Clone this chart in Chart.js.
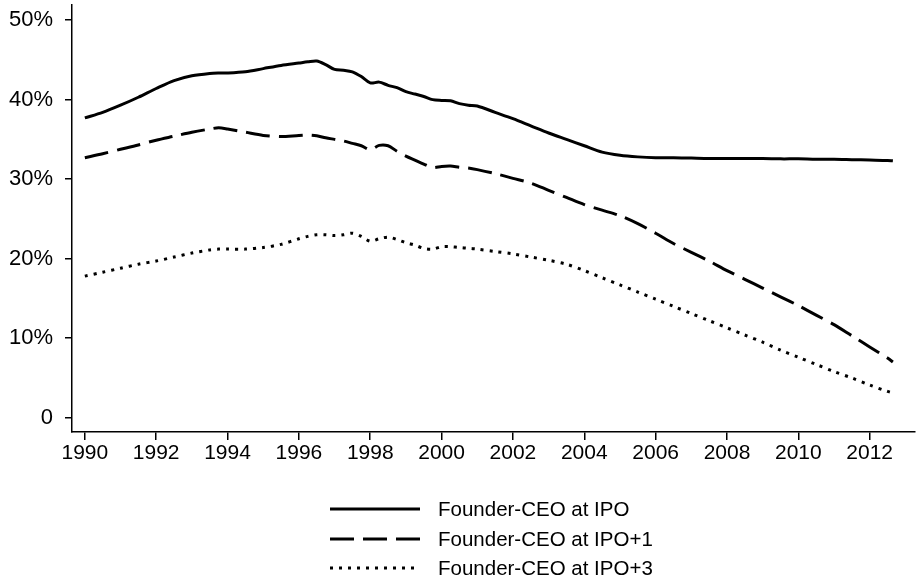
<!DOCTYPE html>
<html>
<head>
<meta charset="utf-8">
<title>Founder-CEO share</title>
<script src="https://cdn.jsdelivr.net/npm/chart.js@4.4.1/dist/chart.umd.min.js"></script>
<style>
    html, body { margin: 0; padding: 0; background: #fff; }
    #wrap { width: 921px; height: 583px; position: relative; }
</style>
</head>
<body>
<div id="wrap"><canvas id="chart"></canvas></div>
<script>
// x positions (years) shared by all three series
const years = [
    1990.0, 1990.5, 1991.0, 1991.5, 1992.0, 1992.5, 1993.0, 1993.5, 1993.75, 1994.0,
    1994.5, 1995.0, 1995.5, 1996.0, 1996.25, 1996.5, 1996.75, 1997.0, 1997.25, 1997.5,
    1997.75, 1998.0, 1998.25, 1998.5, 1998.75, 1999.0, 1999.25, 1999.5, 1999.75, 2000.0,
    2000.25, 2000.5, 2000.75, 2001.0, 2001.5, 2002.0, 2002.5, 2003.0, 2003.5, 2004.0,
    2004.5, 2005.0, 2005.5, 2006.0, 2006.5, 2007.0, 2007.5, 2008.0, 2008.5, 2009.0,
    2009.5, 2010.0, 2010.5, 2011.0, 2011.5, 2012.0, 2012.5, 2012.65
];

const ceoAtIpo = [
    37.7, 38.4, 39.3, 40.3, 41.4, 42.4, 43.0, 43.3, 43.35, 43.35,
    43.5, 43.9, 44.3, 44.6, 44.75, 44.85, 44.4, 43.8, 43.7, 43.5,
    42.9, 42.1, 42.2, 41.8, 41.5, 41.0, 40.7, 40.4, 40.0, 39.9,
    39.85, 39.5, 39.3, 39.2, 38.4, 37.6, 36.7, 35.8, 35.0, 34.2,
    33.4, 33.0, 32.8, 32.7, 32.7, 32.65, 32.6, 32.6, 32.6, 32.6,
    32.55, 32.55, 32.5, 32.5, 32.45, 32.4, 32.35, 32.3
];

const ceoAtIpo1 = [
    32.7, 33.2, 33.75, 34.3, 34.9, 35.4, 35.9, 36.3, 36.45, 36.3,
    35.9, 35.5, 35.35, 35.5, 35.55, 35.45, 35.2, 35.0, 34.8, 34.5,
    34.2, 33.7, 34.25, 34.2, 33.5, 32.9, 32.4, 31.9, 31.45, 31.6,
    31.65, 31.5, 31.4, 31.2, 30.7, 30.1, 29.5, 28.6, 27.7, 26.8,
    26.1, 25.4, 24.4, 23.2, 21.9, 20.8, 19.7, 18.5, 17.4, 16.3,
    15.2, 14.1, 12.9, 11.7, 10.3, 8.9, 7.5, 7.0
];

const ceoAtIpo3 = [
    17.8, 18.3, 18.8, 19.3, 19.7, 20.2, 20.7, 21.1, 21.2, 21.2,
    21.2, 21.4, 21.8, 22.5, 22.8, 23.0, 23.0, 22.9, 23.0, 23.2,
    22.8, 22.2, 22.5, 22.7, 22.4, 22.0, 21.7, 21.3, 21.2, 21.5,
    21.5, 21.4, 21.3, 21.2, 20.9, 20.6, 20.2, 19.8, 19.3, 18.5,
    17.6, 16.7, 15.8, 14.9, 14.0, 13.1, 12.2, 11.3, 10.4, 9.5,
    8.5, 7.6, 6.7, 5.8, 5.0, 4.1, 3.3, 3.1
];

const seriesLabels = ['Founder-CEO at IPO', 'Founder-CEO at IPO+1', 'Founder-CEO at IPO+3'];
const xTickValues = [1990, 1992, 1994, 1996, 1998, 2000, 2002, 2004, 2006, 2008, 2010, 2012];
const yTickValues = [0, 10, 20, 30, 40, 50];

const FONT = "'Liberation Sans', Arial, sans-serif";

function toPoints(values) {
    return values.map((v, i) => ({ x: years[i], y: v }));
}

// legend drawn as a vertical stack below the plot
const stackedLegend = {
    id: 'stackedLegend',
    afterDraw(chart) {
        const ctx = chart.ctx;
        const rows = [509, 539, 568];
        ctx.save();
        chart.data.datasets.forEach((ds, i) => {
            const y = rows[i];
            ctx.strokeStyle = ds.borderColor;
            ctx.lineWidth = ds.borderWidth;
            ctx.setLineDash(ds.borderDash || []);
            ctx.beginPath();
            ctx.moveTo(330, y);
            ctx.lineTo(420, y);
            ctx.stroke();
            ctx.setLineDash([]);
            ctx.fillStyle = '#000';
            ctx.font = '20.5px ' + FONT;
            ctx.textBaseline = 'middle';
            ctx.fillText(ds.label, 438, y + 1);
        });
        ctx.restore();
    }
};

const ctx = document.getElementById('chart').getContext('2d');
new Chart(ctx, {
    type: 'line',
    data: {
        datasets: [
            {
                label: seriesLabels[0],
                data: toPoints(ceoAtIpo),
                borderColor: '#000',
                borderWidth: 3,
                pointRadius: 0,
                tension: 0.3
            },
            {
                label: seriesLabels[1],
                data: toPoints(ceoAtIpo1),
                borderColor: '#000',
                borderWidth: 3,
                borderDash: [24, 9],
                pointRadius: 0,
                tension: 0.3
            },
            {
                label: seriesLabels[2],
                data: toPoints(ceoAtIpo3),
                borderColor: '#000',
                borderWidth: 3,
                borderDash: [3, 6],
                pointRadius: 0,
                tension: 0.3
            }
        ]
    },
    options: {
        responsive: true,
        maintainAspectRatio: false,
        animation: false,
        layout: { padding: { top: 5, right: 6, left: 0, bottom: 0 } },
        plugins: {
            legend: { display: false },
            tooltip: { enabled: false }
        },
        scales: {
            x: {
                type: 'linear',
                min: 1989.64,
                max: 2013.27,
                afterBuildTicks: (axis) => {
                    axis.ticks = xTickValues.map(v => ({ value: v }));
                },
                afterFit: (axis) => {
                    axis.height = 151;
                    axis.paddingLeft = 0;
                    axis.paddingRight = 0;
                },
                grid: {
                    drawOnChartArea: false,
                    drawTicks: true,
                    tickLength: 8,
                    color: '#000',
                    lineWidth: 1.5
                },
                border: { display: true, color: '#000', width: 1.5 },
                ticks: {
                    autoSkip: false,
                    maxRotation: 0,
                    padding: 1,
                    color: '#000',
                    font: { family: FONT, size: 21 },
                    callback: (v) => String(v)
                }
            },
            y: {
                min: -1.8,
                max: 51.9,
                afterBuildTicks: (axis) => {
                    axis.ticks = yTickValues.map(v => ({ value: v }));
                },
                afterFit: (axis) => {
                    axis.width = 72;
                    axis.paddingTop = 0;
                    axis.paddingBottom = 0;
                },
                grid: {
                    drawOnChartArea: false,
                    drawTicks: true,
                    tickLength: 7,
                    color: '#000',
                    lineWidth: 1.5
                },
                border: { display: true, color: '#000', width: 1.5 },
                ticks: {
                    padding: 12,
                    color: '#000',
                    font: { family: FONT, size: 22 },
                    callback: (v) => v === 0 ? '0' : v + '%'
                }
            }
        }
    },
    plugins: [stackedLegend]
});
</script>
</body>
</html>
